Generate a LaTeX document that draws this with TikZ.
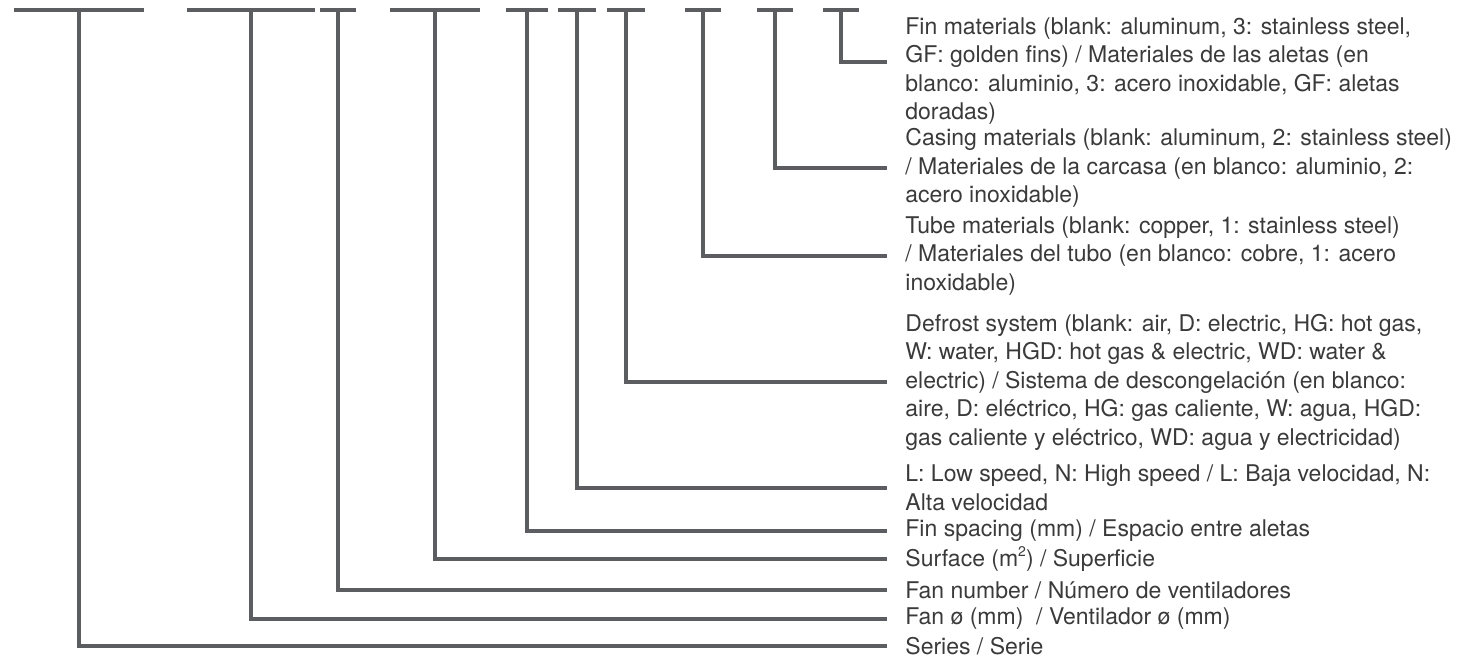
\documentclass[tikz,border=0pt]{standalone}
\usepackage{fontspec}
\setmainfont{TeX Gyre Heros}
\definecolor{linegray}{HTML}{5B5D60}
\definecolor{textgray}{HTML}{3A3A3A}
\tikzset{
    codeline/.style={draw=linegray, line width=1.6pt},
    legend/.style={anchor=west, align=left, inner sep=0pt, inner xsep=9pt,
        text=textgray, font=\fontsize{11.5}{14.25}\selectfont}
}
\begin{document}
\begin{tikzpicture}[x=0.5pt, y=-0.5pt]
    \useasboundingbox (0,0) rectangle (1460,657);

    % Descripciones
    \node[legend] (fin) at (887,71) {Fin materials (blank: aluminum, 3: stainless steel,\\
        GF: golden fins) / Materiales de las aletas (en\\
        blanco: aluminio, 3: acero inoxidable, GF: aletas\\
        doradas)};
    \node[legend] (casing) at (887,168) {Casing materials (blank: aluminum, 2: stainless steel)\\
        / Materiales de la carcasa (en blanco: aluminio, 2:\\
        acero inoxidable)};
    \node[legend] (tube) at (887,256) {Tube materials (blank: copper, 1: stainless steel)\\
        / Materiales del tubo (en blanco: cobre, 1: acero\\
        inoxidable)};
    \node[legend] (defrost) at (887,382) {Defrost system (blank: air, D: electric, HG: hot gas,\\
        W: water, HGD: hot gas \& electric, WD: water \&\\
        electric) / Sistema de descongelación (en blanco:\\
        aire, D: eléctrico, HG: gas caliente, W: agua, HGD:\\
        gas caliente y eléctrico, WD: agua y electricidad)};
    \node[legend] (speed) at (887,488) {L: Low speed, N: High speed / L: Baja velocidad, N:\\
        Alta velocidad};
    \node[legend] (spacing) at (887,531) {Fin spacing (mm) / Espacio entre aletas};
    \node[legend] (surface) at (887,559) {Surface (m\raisebox{0.9ex}{\fontsize{7}{7}\selectfont 2}) / Superficie};
    \node[legend] (fannum) at (887,590) {Fan number / Número de ventiladores};
    \node[legend] (fan) at (887,619) {Fan ø (mm)~ / Ventilador ø (mm)};
    \node[legend] (series) at (887,646) {Series / Serie};

    % Barras del codigo y lineas
    \foreach \x/\w/\n/\s in {79/65/series/0, 251/64/fan/0, 338/18/fannum/0,
        435/45/surface/0, 527/21/spacing/0, 577/19/speed/0, 626/19/defrost/0,
        703/18/tube/0, 775/18/casing/0, 841/18/fin/4.5}{
        \coordinate (b-\n) at (\x,10);
        \draw[codeline] (\x-\w,10) -- (\x+\w,10);
        \draw[codeline] (b-\n) |- ([yshift=\s pt]\n.west);
    }
\end{tikzpicture}
\end{document}
